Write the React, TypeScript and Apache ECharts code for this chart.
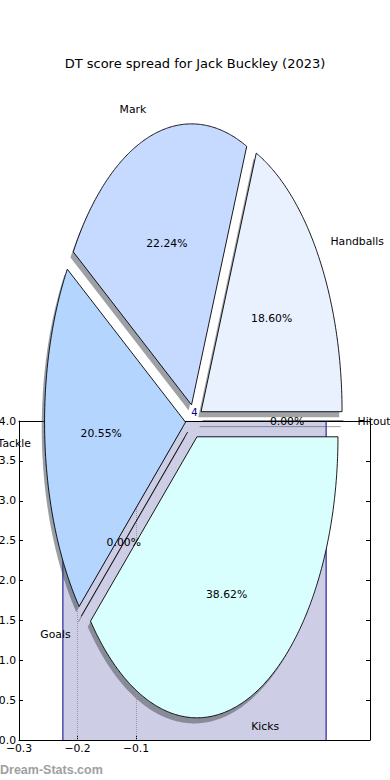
import React, { useEffect, useRef } from 'react';
import * as echarts from 'echarts';

const TITLE = 'DT score spread for Jack Buckley (2023)';
const WATERMARK = 'Dream-Stats.com';

// Pie data (counter-clockwise from 3 o'clock)
const categories = ['Hitout', 'Handballs', 'Mark', 'Tackle', 'Goals', 'Kicks'];
const shares = [0, 18.6, 22.24, 20.55, 0, 38.62];
const explode = [0.06, 0.06, 0.06, 0.06, 0.06, 0.06];
const sliceColors = ['#cfe0fe', '#eaf1fe', '#c6d9fe', '#b3d5fe', '#c6e4fe', '#d9fefe'];

// Bar data
const barX = [0];
const barValues = [4];
const barWidth = 0.45;

// Axes
const xMin = -0.3;
const xMax = 0.3;
const xStep = 0.1;
const xTickValues = [-0.3, -0.2, -0.1];
const xGridValues = [-0.2, -0.1];
const yMin = 0;
const yMax = 4;
const yStep = 0.5;

const FONT = 'DejaVu Sans';
const NAVY = '#000090';
const BAR_FILL = '#cdcde5';

const total = shares.reduce((a, b) => a + b, 0);
const startAngles: number[] = shares.map((_, i) =>
  (shares.slice(0, i).reduce((a, b) => a + b, 0) / total) * Math.PI * 2
);

function geom(i: number) {
  const t1 = startAngles[i];
  const t2 = t1 + (shares[i] / total) * Math.PI * 2;
  const tm = (t1 + t2) / 2;
  return { t1, t2, tm, ox: explode[i] * Math.cos(tm), oy: explode[i] * Math.sin(tm) };
}

function outline(api: any, i: number, dx: number, dy: number) {
  const g = geom(i);
  const pts: number[][] = [api.coord([g.ox + dx, g.oy + dy])];
  const n = Math.max(1, Math.ceil((g.t2 - g.t1) / (Math.PI / 360)));
  for (let k = 0; k <= n; k++) {
    const a = g.t1 + ((g.t2 - g.t1) * k) / n;
    pts.push(api.coord([g.ox + dx + Math.cos(a), g.oy + dy + Math.sin(a)]));
  }
  return { pts, zero: shares[i] === 0 };
}

function shade(hex: string, alpha: number) {
  const r = parseInt(hex.slice(1, 3), 16);
  const g = parseInt(hex.slice(3, 5), 16);
  const b = parseInt(hex.slice(5, 7), 16);
  return `rgba(${Math.round(r * 0.3)},${Math.round(g * 0.3)},${Math.round(b * 0.3)},${alpha})`;
}

const fmtNum = (v: number) => (v < 0 ? '\u2212' + Math.abs(v).toFixed(1) : v.toFixed(1));

const axisLineStyle = { color: '#000', width: 1 };

const option: any = {
  animation: false,
  textStyle: { fontFamily: FONT },
  title: {
    text: TITLE,
    left: 'center',
    top: 52,
    textStyle: { fontSize: 13, fontWeight: 'normal', color: '#000', fontFamily: FONT },
  },
  graphic: [
    {
      type: 'text',
      left: 0,
      top: 763,
      style: { text: WATERMARK, fill: '#a0a0a0', font: 'bold 12.5px "Liberation Sans"' },
    },
  ],
  grid: [
    { left: 19, top: 421, width: 351, height: 319, outerBoundsMode: 'none', containLabel: false },
    { left: 53, top: 140, width: 282, height: 562, outerBoundsMode: 'none', containLabel: false },
  ],
  xAxis: [
    {
      gridIndex: 0,
      type: 'value',
      min: xMin,
      max: xMax,
      interval: xStep,
      position: 'bottom',
      z: 3,
      axisLine: { show: true, onZero: false, lineStyle: axisLineStyle },
      axisTick: { show: true, inside: true, length: 4, customValues: xTickValues, lineStyle: { color: '#000' } },
      axisLabel: {
        customValues: xTickValues,
        formatter: (v: number) => (xTickValues.some((t) => Math.abs(t - v) < 1e-9) ? fmtNum(v) : ''),
        color: '#000',
        fontSize: 10.8,
        fontFamily: FONT,
        margin: 3,
      },
      splitLine: { show: false },
    },
    {
      gridIndex: 0,
      type: 'value',
      min: xMin,
      max: xMax,
      interval: xStep,
      position: 'top',
      z: 3,
      axisLine: { show: true, onZero: false, lineStyle: axisLineStyle },
      axisTick: { show: false },
      axisLabel: { show: false },
      splitLine: { show: false },
    },
    { gridIndex: 1, type: 'value', min: -1, max: 1, show: false },
  ],
  yAxis: [
    {
      gridIndex: 0,
      type: 'value',
      min: yMin,
      max: yMax,
      interval: yStep,
      position: 'left',
      z: 3,
      axisLine: { show: true, onZero: false, lineStyle: axisLineStyle },
      axisTick: { show: true, inside: true, length: 4, lineStyle: { color: '#000' } },
      axisLabel: { formatter: fmtNum, color: '#000', fontSize: 10.8, fontFamily: FONT, margin: 3 },
      splitLine: { show: false },
    },
    {
      gridIndex: 0,
      type: 'value',
      min: yMin,
      max: yMax,
      interval: yStep,
      position: 'right',
      z: 3,
      axisLine: { show: true, onZero: false, lineStyle: axisLineStyle },
      axisTick: { show: true, inside: true, length: 4, lineStyle: { color: '#000' } },
      axisLabel: { show: false },
      splitLine: { show: false },
    },
    { gridIndex: 1, type: 'value', min: -1, max: 1, show: false },
  ],
  series: [
    {
      type: 'custom',
      name: 'bar',
      xAxisIndex: 0,
      yAxisIndex: 0,
      z: 1,
      data: barX.map((x, i) => [x, barValues[i]]),
      renderItem: (params: any, api: any) => {
        const x = api.value(0);
        const v = api.value(1);
        const tl = api.coord([x - barWidth / 2, v]);
        const br = api.coord([x + barWidth / 2, 0]);
        const top = api.coord([x, v]);
        return {
          type: 'group',
          children: [
            {
              type: 'rect',
              shape: { x: tl[0], y: tl[1], width: br[0] - tl[0], height: br[1] - tl[1] },
              style: { fill: BAR_FILL },
            },
            { type: 'line', shape: { x1: tl[0], y1: tl[1], x2: tl[0], y2: br[1] }, style: { stroke: NAVY, lineWidth: 1 } },
            { type: 'line', shape: { x1: br[0], y1: tl[1], x2: br[0], y2: br[1] }, style: { stroke: NAVY, lineWidth: 1 } },
            {
              type: 'text',
              x: top[0],
              y: top[1] - 4,
              style: { text: String(v), fill: NAVY, fontSize: 10, fontFamily: FONT, align: 'center', verticalAlign: 'bottom' },
            },
          ],
        };
      },
      markLine: {
        silent: true,
        symbol: ['none', 'none'],
        label: { show: false },
        lineStyle: { type: 'dotted', color: '#999', width: 1 },
        data: xGridValues.map((v) => ({ xAxis: v })),
      },
    },
    {
      type: 'custom',
      name: 'shadows',
      xAxisIndex: 2,
      yAxisIndex: 2,
      z: 4,
      clip: false,
      data: shares.map((v, i) => ({ name: categories[i], value: [i, v] })),
      renderItem: (params: any, api: any) => {
        const i = params.dataIndex;
        const { pts, zero } = outline(api, i, -0.02, -0.02);
        if (zero) {
          return {
            type: 'polyline',
            shape: { points: [pts[0], pts[1]] },
            style: { stroke: shade(sliceColors[i], 0.5), lineWidth: 1, fill: null },
          };
        }
        return { type: 'polygon', shape: { points: pts }, style: { fill: shade(sliceColors[i], 0.5), stroke: null } };
      },
    },
    {
      type: 'custom',
      name: 'wedges',
      xAxisIndex: 2,
      yAxisIndex: 2,
      z: 5,
      clip: false,
      data: shares.map((v, i) => ({ name: categories[i], value: [i, v] })),
      renderItem: (params: any, api: any) => {
        const i = params.dataIndex;
        const { pts, zero } = outline(api, i, 0, 0);
        if (zero) {
          return {
            type: 'polyline',
            shape: { points: [pts[0], pts[1]] },
            style: { stroke: '#000', lineWidth: 0.9, fill: null },
          };
        }
        return {
          type: 'polygon',
          shape: { points: pts },
          style: { fill: sliceColors[i], stroke: '#000', lineWidth: 0.9, lineJoin: 'miter' },
        };
      },
    },
    {
      type: 'custom',
      name: 'labels',
      xAxisIndex: 2,
      yAxisIndex: 2,
      z: 6,
      clip: false,
      data: shares.map((v, i) => ({ name: categories[i], value: [i, v] })),
      renderItem: (params: any, api: any) => {
        const i = params.dataIndex;
        const g = geom(i);
        const pp = api.coord([g.ox + 0.6 * Math.cos(g.tm), g.oy + 0.6 * Math.sin(g.tm)]);
        const lx = g.ox + 1.1 * Math.cos(g.tm);
        const lp = api.coord([lx, g.oy + 1.1 * Math.sin(g.tm)]);
        const align = Math.abs(lx) < 1e-9 ? 'center' : lx > 0 ? 'left' : 'right';
        return {
          type: 'group',
          children: [
            {
              type: 'text',
              x: pp[0],
              y: pp[1],
              style: {
                text: ((shares[i] / total) * 100).toFixed(2) + '%',
                fill: '#000',
                fontSize: 10.8,
                fontFamily: FONT,
                align: 'center',
                verticalAlign: 'middle',
              },
            },
            {
              type: 'text',
              x: lp[0],
              y: lp[1],
              style: {
                text: categories[i],
                fill: '#000',
                fontSize: 10.8,
                fontFamily: FONT,
                align,
                verticalAlign: 'middle',
              },
            },
          ],
        };
      },
    },
  ],
};

export default function App() {
  const ref = useRef<HTMLDivElement>(null);
  useEffect(() => {
    if (!ref.current) return;
    const chart = echarts.init(ref.current, null, { renderer: 'svg' });
    chart.setOption(option);
    return () => chart.dispose();
  }, []);
  return (
    <div
      ref={ref}
      style={{ position: 'absolute', left: 0, top: 0, width: 390, height: 780, background: '#fff' }}
    />
  );
}
